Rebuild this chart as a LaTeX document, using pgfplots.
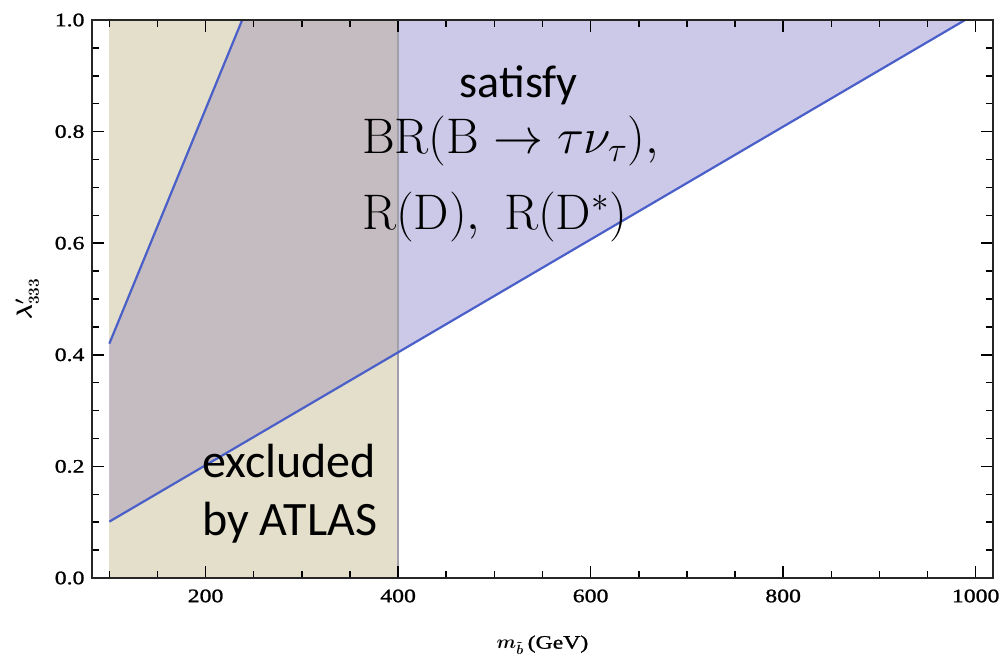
\RequirePackage{fix-cm}
\documentclass[border=0pt]{standalone}
\usepackage{fontspec}
\usepackage{pgfplots}
\pgfplotsset{compat=1.18}
\newfontfamily\carlito{Carlito}
\newfontfamily\tickfont[FakeStretch=1.25, FakeBold=1.2]{Liberation Serif}
\definecolor{atlas}{RGB}{227,223,203}
\definecolor{allowed}{RGB}{204,200,232}
\definecolor{overlap}{RGB}{196,188,192}
\definecolor{bound}{RGB}{74,95,200}
\definecolor{edge}{RGB}{160,160,170}

\begin{document}
\begin{tikzpicture}
\useasboundingbox (-92pt,-87pt) rectangle (910pt,578pt);
\begin{axis}[
  at={(0,0)}, anchor=south west,
  width=901pt, height=558pt, scale only axis,
  xmin=82, xmax=1018, ymin=0, ymax=1,
  axis on top,
  xtick={200,400,600,800,1000},
  ytick={0,0.2,0.4,0.6,0.8,1},
  minor xtick={100,150,...,1000},
  minor ytick={0,0.05,0.1,0.15,0.2,0.25,0.3,0.35,0.4,0.45,0.5,0.55,0.6,0.65,0.7,0.75,0.8,0.85,0.9,0.95,1},
  tick align=inside,
  major tick length=12pt, minor tick length=7pt,
  every tick/.style={black, line width=1.5pt},
  axis line style={line width=1.9pt, black!85},
  ticklabel style={font=\tickfont\fontsize{19}{22}\selectfont},
  xticklabel style={/pgf/number format/.cd, assume math mode=true, 1000 sep={}, /tikz/.cd, yshift=-8pt},
  yticklabel style={/pgf/number format/.cd, assume math mode=true, fixed, fixed zerofill, precision=1, /tikz/.cd, xshift=-4pt},
  xlabel={$m_{\tilde b}$\kern4pt(GeV)},
  ylabel={$\lambda'_{333}$},
  xlabel style={font=\tickfont\boldmath\fontsize{19}{22}\selectfont, at={(axis description cs:0.5,-0.12)}, anchor=center},
  ylabel style={font=\boldmath\fontsize{22}{24}\selectfont, at={(axis description cs:-0.072,0.5)}, anchor=center},
  clip=false,
]
% region excluded by ATLAS
\addplot[fill=atlas, draw=none] coordinates {(100,0) (400,0) (400,1) (100,1)} -- cycle;
% band allowed by BR(B -> tau nu), R(D), R(D*)
\addplot[fill=allowed, draw=none] coordinates {(100,0.101) (989,1) (238,1) (100,0.42)} -- cycle;
% overlap of the two
\addplot[fill=overlap, draw=none] coordinates {(100,0.101) (400,0.404) (400,1) (238,1) (100,0.42)} -- cycle;
% ATLAS limit
\addplot[edge, line width=2pt] coordinates {(400,0) (400,1)};
% band boundaries
\addplot[bound, line width=2.2pt] coordinates {(100,0.101) (989,1)};
\addplot[bound, line width=2.2pt] coordinates {(100,0.42) (238,1)};

\node[anchor=base west, font=\carlito\fontsize{46}{55}\selectfont, inner sep=0pt] at (axis cs:464,0.862) {satisfy};
\node[anchor=base west, font=\fontsize{50}{60}\selectfont, inner sep=0pt] at (axis cs:362.5,0.760) {$\mathrm{BR}(\mathrm{B}\rightarrow\tau\nu_\tau),$};
\node[anchor=base west, font=\fontsize{50}{60}\selectfont, inner sep=0pt] at (axis cs:362.5,0.624) {$\mathrm{R}(\mathrm{D}),\ \mathrm{R}(\mathrm{D}^*)$};
\node[anchor=base west, font=\carlito\fontsize{48}{58}\selectfont, inner sep=0pt] at (axis cs:196.3,0.181) {excluded};
\node[anchor=base west, font=\carlito\fontsize{48}{58}\selectfont, inner sep=0pt] at (axis cs:196.3,0.077) {by ATLAS};
\end{axis}
\end{tikzpicture}
\end{document}
